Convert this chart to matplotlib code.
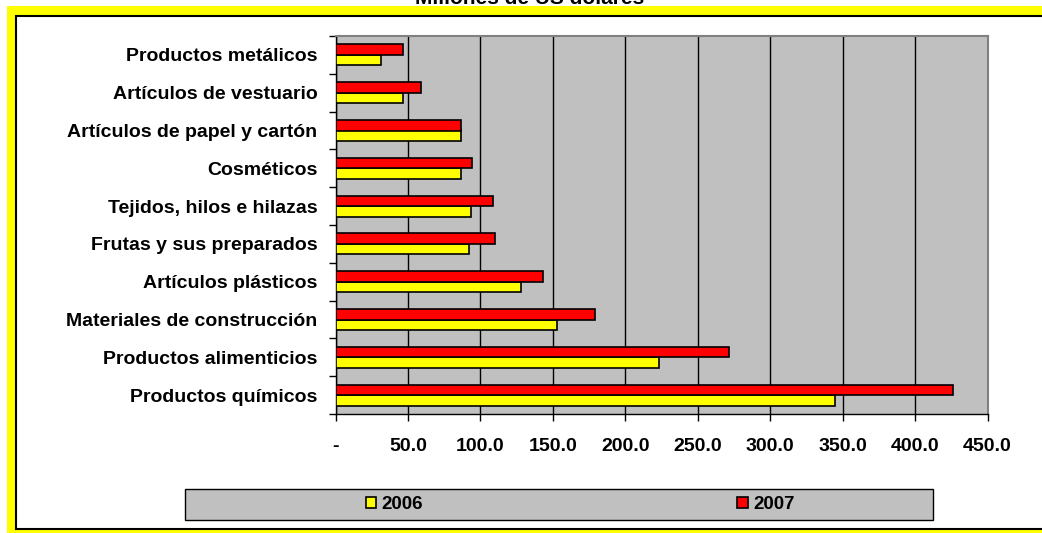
"""Exportaciones por sector, 2006 vs 2007 (millones de US dólares)."""

import matplotlib

matplotlib.use('Agg')
import matplotlib.pyplot as plt
from matplotlib.patches import Rectangle
import numpy as np

plt.rcParams['font.family'] = ['Liberation Sans', 'DejaVu Sans']

# Data (bottom to top as drawn)
categories = ['Productos químicos', 'Productos alimenticios', 'Materiales de construcción',
              'Artículos plásticos', 'Frutas y sus preparados', 'Tejidos, hilos e hilazas',
              'Cosméticos', 'Artículos de papel y cartón', 'Artículos de vestuario',
              'Productos metálicos']
values_2006 = [344.8, 223.2, 152.8, 128.0, 92.1, 93.7, 86.8, 86.6, 46.6, 31.4]
values_2007 = [426.0, 271.5, 179.0, 143.2, 110.3, 108.9, 94.0, 86.8, 59.2, 46.6]
x_ticks = [0, 50, 100, 150, 200, 250, 300, 350, 400, 450]
x_ticklabels = ['-', '50.0', '100.0', '150.0', '200.0', '250.0', '300.0', '350.0', '400.0', '450.0']
title = 'Millones de US dólares'

W, H = 1042, 533
fig = plt.figure(figsize=(W / 100, H / 100), dpi=100)
fig.patch.set_facecolor('white')

# yellow frame and white inner panel
fig.patches.append(Rectangle((7 / W, 0), 1.1, (H - 6) / H, transform=fig.transFigure,
                             facecolor='#FFFF00', edgecolor='none', zorder=-3))
fig.patches.append(Rectangle((16 / W, 4 / H), 1.1, (H - 20) / H, transform=fig.transFigure,
                             facecolor='white', edgecolor='black', linewidth=1.5, zorder=-2))

fig.text(530 / W, 1 - 4.5 / H, title, ha='center', va='baseline',
         fontsize=15, fontweight='bold')

ax = fig.add_axes([335.5 / W, 1 - 414 / H, 652 / W, 378 / H])
ax.set_zorder(3)
ax.set_facecolor('#C0C0C0')

y = np.arange(len(categories))
h = 0.28
ax.barh(y - h / 2, values_2006, h, color='#FFFF00', edgecolor='black', linewidth=1.2,
        label='2006', zorder=3)
ax.barh(y + h / 2, values_2007, h, color='#FF0000', edgecolor='black', linewidth=1.2,
        label='2007', zorder=3)

ax.set_xlim(0, 450)
ax.set_ylim(-0.5, len(categories) - 0.5)
ax.set_xticks(x_ticks)
ax.set_xticklabels(x_ticklabels, fontsize=14, fontweight='bold')
ax.set_yticks(y)
ax.set_yticklabels(categories, fontsize=14, fontweight='bold')
ax.set_yticks(np.arange(len(categories) + 1) - 0.5, minor=True)
ax.tick_params(axis='y', which='major', length=0, pad=13)
ax.tick_params(axis='y', which='minor', length=5, width=1, direction='out')
ax.tick_params(axis='x', length=5, width=1, direction='out', pad=12)

ax.grid(axis='x', color='black', linewidth=1, zorder=1)
ax.set_axisbelow(True)

for side in ['top', 'right']:
    ax.spines[side].set_color('#808080')
    ax.spines[side].set_linewidth(1.5)
for side in ['left', 'bottom']:
    ax.spines[side].set_color('black')
    ax.spines[side].set_linewidth(1)

# legend box
fig.patches.append(Rectangle((185 / W, (H - 520) / H), 748 / W, 31 / H, transform=fig.transFigure,
                             facecolor='#C0C0C0', edgecolor='black', linewidth=1, zorder=2))
handles, labels = ax.get_legend_handles_labels()
leg = fig.legend(handles, labels, loc='center left', bbox_to_anchor=(349 / W, (H - 504.5) / H),
                 ncol=2, frameon=False, handlelength=0.55, handleheight=0.55,
                 handletextpad=0.3, columnspacing=16.75,
                 prop={'size': 13.5, 'weight': 'bold'})
leg.set_zorder(5)

plt.savefig('out.png', dpi=100)
plt.close()
